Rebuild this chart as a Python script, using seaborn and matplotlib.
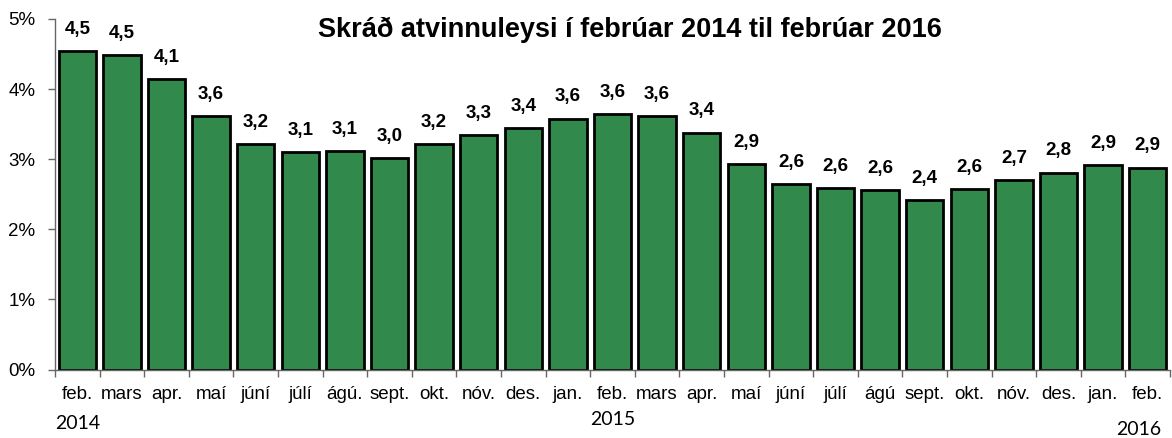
import matplotlib
matplotlib.use("Agg")
import matplotlib.pyplot as plt
import matplotlib.transforms as mtransforms
import seaborn as sns
import pandas as pd
import numpy as np

months = ["feb.", "mars", "apr.", "maí", "júní", "júlí", "ágú.", "sept.", "okt.", "nóv.", "des.", "jan.",
          "feb.", "mars", "apr.", "maí", "júní", "júlí", "ágú", "sept.", "okt.", "nóv.", "des.", "jan.", "feb."]
values = [4.54, 4.49, 4.14, 3.62, 3.21, 3.10, 3.12, 3.02, 3.21, 3.34, 3.44, 3.58,
          3.64, 3.61, 3.38, 2.93, 2.64, 2.59, 2.56, 2.42, 2.57, 2.70, 2.81, 2.92, 2.88]
year_labels = ["2014", "2015", "2016"]
year_positions = [0, 12, 23.8]
year_y = [-0.155, -0.142, -0.171]
title = "Skráð atvinnuleysi í febrúar 2014 til febrúar 2016"

sns.set_theme(style="white")
plt.rcParams['font.family'] = ['Liberation Sans', 'DejaVu Sans']
plt.rcParams['text.color'] = 'black'
plt.rcParams['xtick.color'] = 'black'
plt.rcParams['ytick.color'] = 'black'

df = pd.DataFrame({"key": [f"{i:02d}" for i in range(len(values))], "value": values})

fig = plt.figure(figsize=(11.72, 4.38), dpi=100)
ax = fig.add_axes([55/1172, (438-369.5)/438, (1170-55)/1172, (369.5-19)/438])

sns.barplot(data=df, x="key", y="value", color="#31894C", saturation=1, width=0.84,
            edgecolor="black", linewidth=2, ax=ax)

ax.set_ylim(0, 5)
ax.set_xlim(-0.5, len(values) - 0.5)
ax.set_yticks([0, 1, 2, 3, 4, 5])
ax.set_yticklabels([f"{t}%" for t in range(6)], fontsize=13.5)
ax.set_xticks(range(len(values)))
ax.set_xticklabels(months, fontsize=13.5)
ax.tick_params(axis="x", which="major", length=0, pad=12, labelcolor="black")
ax.set_xticks(np.arange(-0.5, len(values), 1), minor=True)
ax.tick_params(axis="x", which="minor", length=5, width=1, color="#666666", direction="out", bottom=True)
ax.tick_params(axis="y", which="major", length=5, width=1, color="#666666", direction="out", left=True,
               pad=9, labelcolor="black")
ax.set_xlabel("")
ax.set_ylabel("")
for s in ["top", "right"]:
    ax.spines[s].set_visible(False)
for s in ["left", "bottom"]:
    ax.spines[s].set_color("#666666")
    ax.spines[s].set_linewidth(1)

for i, v in enumerate(values):
    ax.annotate(f"{v:.1f}".replace(".", ","), (i, v), xytext=(0, 9.5), textcoords="offset points",
                ha="center", va="bottom", fontsize=13.5, fontweight="bold", color="black")

trans = mtransforms.blended_transform_factory(ax.transData, ax.transAxes)
for lab, pos, yy in zip(year_labels, year_positions, year_y):
    ax.text(pos, yy, lab, transform=trans, ha="center", va="center", fontsize=14,
            family=["Lato", "DejaVu Sans"], color="black")

fig.text(630/1172, 1 - 30/438, title, ha="center", va="center", fontsize=19.5, fontweight="bold",
         color="black")

fig.savefig("out.png", dpi=100, facecolor="white")
